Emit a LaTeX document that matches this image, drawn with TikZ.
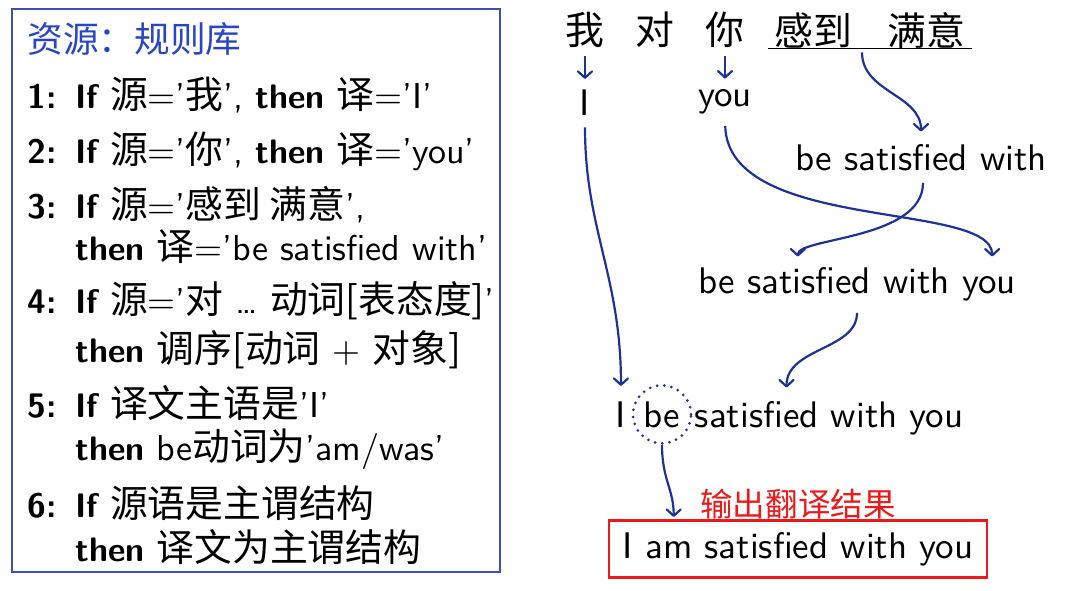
\documentclass[tikz,border=0pt]{standalone}
\usepackage{fontspec}
\setsansfont{lmsans10}[Extension=.otf, UprightFont=*-regular,
  BoldFont=*-bold, ItalicFont=*-oblique]
\renewcommand{\familydefault}{\sfdefault}
\newfontfamily\cjk[Scale=1.05]{Noto Sans CJK SC}
\usepackage{tikz}
\usetikzlibrary{
  arrows.meta,
  calc,
  positioning
}
\definecolor{arrblue}{RGB}{30,50,150}
\definecolor{frameblue}{RGB}{60,80,180}
\definecolor{titleblue}{RGB}{40,70,195}
\definecolor{outred}{RGB}{235,25,25}
\newcommand{\zh}[1]{{\cjk #1}}
\newcommand{\kw}[1]{{\fontsize{17}{20}\selectfont\bfseries #1}}

\begin{document}
\begin{tikzpicture}[
  x=0.5pt, y=-0.5pt,
  word/.style={font=\fontsize{18.5}{22}\selectfont, inner sep=2pt},
  hanzi/.style={font=\fontsize{18.5}{22}\selectfont\cjk, inner sep=2pt},
  rulerow/.style={anchor=base west, inner sep=0pt, font=\fontsize{18}{20}\selectfont},
  arr/.style={-{Straight Barb[length=3.2pt, width=7pt, round]}, line width=1.1pt, arrblue},
]
  \useasboundingbox (0,0) rectangle (1080,590);

  % rule base on the left
  \draw[frameblue, line width=1pt] (12,9) rectangle (500,572);
  \node[anchor=west, inner sep=0pt, titleblue, font=\fontsize{17}{20}\selectfont\cjk] (title) at (27,39) {资源：规则库};

  \node[rulerow] (r1) at (27,108) {\begin{tabular}[t]{@{}p{24pt}@{}l@{}}
    \kw{1:} & \kw{If} \zh{源}='\zh{我}', \kw{then} \zh{译}='I'
  \end{tabular}};
  \node[rulerow] (r2) at (27,163) {\begin{tabular}[t]{@{}p{24pt}@{}l@{}}
    \kw{2:} & \kw{If} \zh{源}='\zh{你}', \kw{then} \zh{译}='you'
  \end{tabular}};
  \node[rulerow] (r3) at (27,218) {\begin{tabular}[t]{@{}p{24pt}@{}l@{}}
    \kw{3:} & \kw{If} \zh{源}='\zh{感到 满意}', \\
            & \kw{then} \zh{译}='be satisfied with'
  \end{tabular}};
  \node[rulerow] (r4) at (27,313) {\begin{tabular}[t]{@{}p{24pt}@{}l@{}}
    \kw{4:} & \kw{If} \zh{源}='\zh{对} \dots\ \zh{动词[表态度]}' \\[3pt]
            & \kw{then} \zh{调序[动词} + \zh{对象]}
  \end{tabular}};
  \node[rulerow] (r5) at (27,417) {\begin{tabular}[t]{@{}p{24pt}@{}l@{}}
    \kw{5:} & \kw{If} \zh{译文主语是}'I' \\
            & \kw{then} be\zh{动词为}'am/was'
  \end{tabular}};
  \node[rulerow] (r6) at (27,517) {\begin{tabular}[t]{@{}p{24pt}@{}l@{}}
    \kw{6:} & \kw{If} \zh{源语是主谓结构} \\
            & \kw{then} \zh{译文为主谓结构}
  \end{tabular}};

  % source sentence
  \node[hanzi] (wo) at (585,30) {我};
  \node[hanzi] (dui) at (655,30) {对};
  \node[hanzi] (ni) at (725,30) {你};
  \node[hanzi, inner xsep=3pt] (gm) at (870,30) {感到\hspace{0.9em}满意};
  \draw[line width=0.8pt] ([yshift=2pt]gm.south west) -- ([yshift=2pt]gm.south east);

  % translation steps
  \node[word, anchor=base] (I1) at (585,115) {I};
  \node[word, anchor=base] (you1) at (725,106) {you};
  \node[word, anchor=base] (bsw) at (921,170) {be satisfied with};
  \node[word, anchor=base] (bswy) at (857,293) {be satisfied with you};

  \node[word, anchor=base, circle, draw=arrblue, line width=1.5pt, line cap=round,
        dash pattern=on 0pt off 3.6pt, minimum size=29pt, inner sep=0pt] (ibe) at (662,427) {be};
  \node[word, anchor=base east, inner xsep=1pt, xshift=-1.5pt] (iI) at (ibe.base west) {I};
  \node[word, anchor=base west, inner xsep=1pt] (irest) at (ibe.base east) {satisfied with you};

  \node[font=\fontsize{15.5}{18}\selectfont\cjk, text=outred, inner sep=0pt] (outlbl) at (798,504) {输出翻译结果};
  \node[word, anchor=base, draw=outred, line width=1.3pt, minimum width=189pt,
        minimum height=28.5pt] (outbox) at (798,558) {I am satisfied with you};

  % arrows
  \draw[arr, shorten <=2pt, shorten >=3pt] (wo) -- (I1);
  \draw[arr, shorten <=2pt, shorten >=3pt] (ni) -- (you1);
  \draw[arr, shorten >=4pt] ([xshift=-4pt]gm.south) .. controls +(0,40) and +(0,-45) .. (bsw.north);
  \draw[arr, shorten <=4pt, shorten >=3pt] (you1.south) .. controls +(3,115) and +(0,-62) .. ($(bswy.north east)+(-28,0)$);
  \draw[arr, shorten <=4pt, shorten >=3pt] ([xshift=1pt]bsw.south) .. controls +(0,65) and +(0,-25) .. ($(bswy.north west)+(104,0)$);
  \draw[arr, shorten <=4pt] (I1.south) .. controls +(0,110) and +(0,-110) .. ([yshift=5.5pt]iI.north);
  \draw[arr, shorten <=4pt] (bswy.south) .. controls +(0,45) and +(0,-40) .. ($(irest.north west)+(94,-9)$);
  \draw[arr, shorten >=1pt] (ibe.south) .. controls +(0,35) and +(0,-30) .. ($(outbox.north west)+(66,0)$);
\end{tikzpicture}
\end{document}
